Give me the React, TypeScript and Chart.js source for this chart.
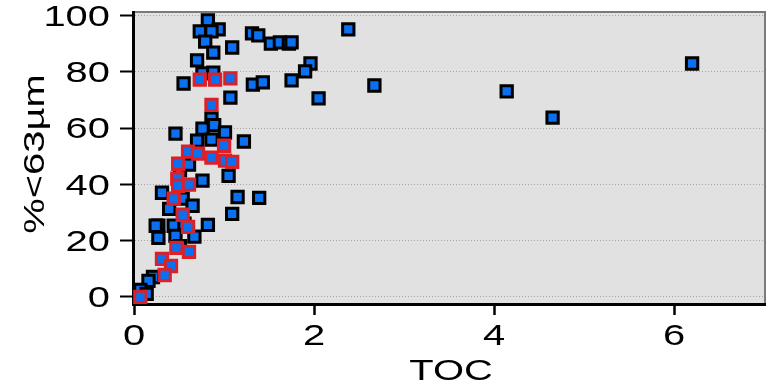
import React, { useEffect, useRef } from "react";
import { Chart, registerables } from "chart.js";

Chart.register(...registerables);

const xTicks = [0, 2, 4, 6];
const yTicks = [0, 20, 40, 60, 80, 100];
const xTitle = "TOC";
const yTitle = "%<63µm";

const blueX = [
  0.81, 0.72, 0.93, 0.85, 0.78, 0.87, 0.69, 1.08, 0.75, 0.87, 0.54, 1.06,
  1.30, 1.37, 1.51, 1.61, 1.71, 1.74, 2.37, 1.95, 1.89, 1.74, 2.04, 1.31, 1.42, 2.66,
  1.21, 1.38, 1.14, 6.19, 4.13, 4.64,
  0.85, 0.88, 0.45, 0.75, 1.00, 0.85, 0.69, 1.04, 0.75, 0.30, 0.53, 0.64, 0.38, 1.08,
  0.26, 0.43, 0.81, 0.23, 0.26, 0.45, 0.66, 0.20, 0.15, 0.06, 0.13, 0.50, 0.60, 0.55, 0.50,
];
const blueY = [
  98.2, 94.3, 95.0, 94.3, 90.7, 86.8, 84.0, 88.6, 79.4, 79.7, 75.8, 70.8,
  93.6, 92.9, 90.0, 90.4, 90.0, 90.4, 95.0, 82.9, 80.1, 76.9, 70.5, 75.4, 76.2, 75.1,
  55.2, 35.2, 35.5, 82.9, 73.0, 63.7,
  63.3, 61.0, 58.0, 59.8, 58.4, 55.9, 55.5, 43.0, 41.3, 37.0, 34.9, 32.4, 31.3, 29.5,
  25.3, 25.3, 25.6, 25.3, 21.0, 21.7, 21.4, 7.1, 5.7, 2.5, 1.1, 45.0, 47.0, 26.0, 18.0,
];

const redX = [
  0.72, 0.89, 1.06, 0.85, 0.99, 0.59, 0.70, 0.85, 1.00, 1.08, 0.48, 0.47,
  0.48, 0.60, 0.43, 0.53, 0.59, 0.46, 0.60, 0.30, 0.40, 0.33, 0.06,
];
const redY = [
  77.2, 77.2, 77.6, 68.2, 53.7, 51.6, 50.9, 49.5, 48.4, 48.0, 47.3, 42.0,
  39.5, 39.9, 34.9, 29.2, 24.9, 17.4, 16.0, 13.5, 11.0, 7.8, 0.0,
];

const STRETCH = 1.33;
const FONT = "30px 'Liberation Sans', Arial, sans-serif";

const bgPlugin = {
  id: "plotBg",
  beforeDraw(chart: any) {
    const { ctx, chartArea: a } = chart;
    ctx.save();
    ctx.fillStyle = "#e1e1e1";
    ctx.fillRect(a.left, a.top, a.right - a.left, a.bottom - a.top);
    ctx.strokeStyle = "#7a7a7a";
    ctx.lineWidth = 2;
    ctx.beginPath();
    ctx.moveTo(a.left, a.top);
    ctx.lineTo(a.right, a.top);
    ctx.lineTo(a.right, a.bottom);
    ctx.stroke();
    ctx.restore();
  },
};

const textPlugin = {
  id: "stretchText",
  afterDraw(chart: any) {
    const { ctx, chartArea: a } = chart;
    const xs = chart.scales.x;
    const ys = chart.scales.y;
    ctx.save();
    ctx.fillStyle = "#000";
    ctx.font = FONT;
    ctx.textAlign = "right";
    ctx.textBaseline = "middle";
    yTicks.forEach((v) => {
      const py = ys.getPixelForValue(v);
      ctx.save();
      ctx.translate(a.left - 23, py + 2);
      ctx.scale(STRETCH, 1);
      ctx.fillText(String(v), 0, 0);
      ctx.restore();
    });
    ctx.textAlign = "center";
    ctx.textBaseline = "alphabetic";
    xTicks.forEach((v) => {
      const px = xs.getPixelForValue(v);
      ctx.save();
      ctx.translate(px - 1, a.bottom + 41);
      ctx.scale(STRETCH, 1);
      ctx.fillText(String(v), 0, 0);
      ctx.restore();
    });
    ctx.save();
    ctx.translate((a.left + a.right) / 2 + 2, a.bottom + 76);
    ctx.scale(STRETCH, 1);
    ctx.fillText(xTitle, 0, 0);
    ctx.restore();
    ctx.save();
    ctx.translate(44, (a.top + a.bottom) / 2 - 4);
    ctx.rotate(-Math.PI / 2);
    ctx.scale(STRETCH, 1);
    ctx.fillText(yTitle, 0, 0);
    ctx.restore();
    ctx.restore();
  },
};

export default function App() {
  const ref = useRef<HTMLCanvasElement>(null);
  useEffect(() => {
    if (!ref.current) return;
    const blue = blueX.map((x, i) => ({ x, y: blueY[i] }));
    const red = redX.map((x, i) => ({ x, y: redY[i] }));
    const chart = new Chart(ref.current, {
      type: "scatter",
      data: {
        datasets: [
          {
            label: "red",
            data: red,
            order: 0,
            pointStyle: "rect",
            pointRadius: 8,
            pointBorderWidth: 3,
            pointBackgroundColor: "#0a70f0",
            pointBorderColor: "#dd2027",
            clip: false,
          },
          {
            label: "blue",
            data: blue,
            order: 1,
            pointStyle: "rect",
            pointRadius: 8,
            pointBorderWidth: 3,
            pointBackgroundColor: "#0a70f0",
            pointBorderColor: "#000000",
            clip: false,
          },
        ],
      },
      options: {
        responsive: false,
        animation: false,
        layout: { padding: { left: 120, right: 9, top: 12, bottom: 77 } },
        plugins: { legend: { display: false }, tooltip: { enabled: false } },
        scales: {
          x: {
            type: "linear",
            min: -0.022,
            max: 7,
            afterBuildTicks: (axis: any) => {
              axis.ticks = xTicks.map((v) => ({ value: v }));
            },
            ticks: { display: false },
            grid: {
              drawOnChartArea: false,
              drawTicks: true,
              tickLength: 11,
              tickColor: "#000",
              tickWidth: 2.5,
              tickBorderDash: [],
            },
            border: { display: true, color: "#000", width: 3 },
          },
          y: {
            type: "linear",
            min: -2.5,
            max: 101.2,
            afterBuildTicks: (axis: any) => {
              axis.ticks = yTicks.map((v) => ({ value: v }));
            },
            ticks: { display: false },
            grid: {
              drawOnChartArea: true,
              color: "#a5a5a5",
              lineWidth: 1,
              drawTicks: true,
              tickLength: 13,
              tickColor: "#000",
              tickWidth: 2,
              tickBorderDash: [],
            },
            border: { display: true, color: "#000", width: 3, dash: [1, 2] },
          },
        },
      },
      plugins: [bgPlugin, textPlugin],
    } as any);
    return () => chart.destroy();
  }, []);
  return (
    <div style={{ position: "fixed", left: 0, top: 0, width: 776, height: 392, background: "#fff" }}>
      <canvas ref={ref} width={776} height={392} style={{ display: "block" }} />
    </div>
  );
}
